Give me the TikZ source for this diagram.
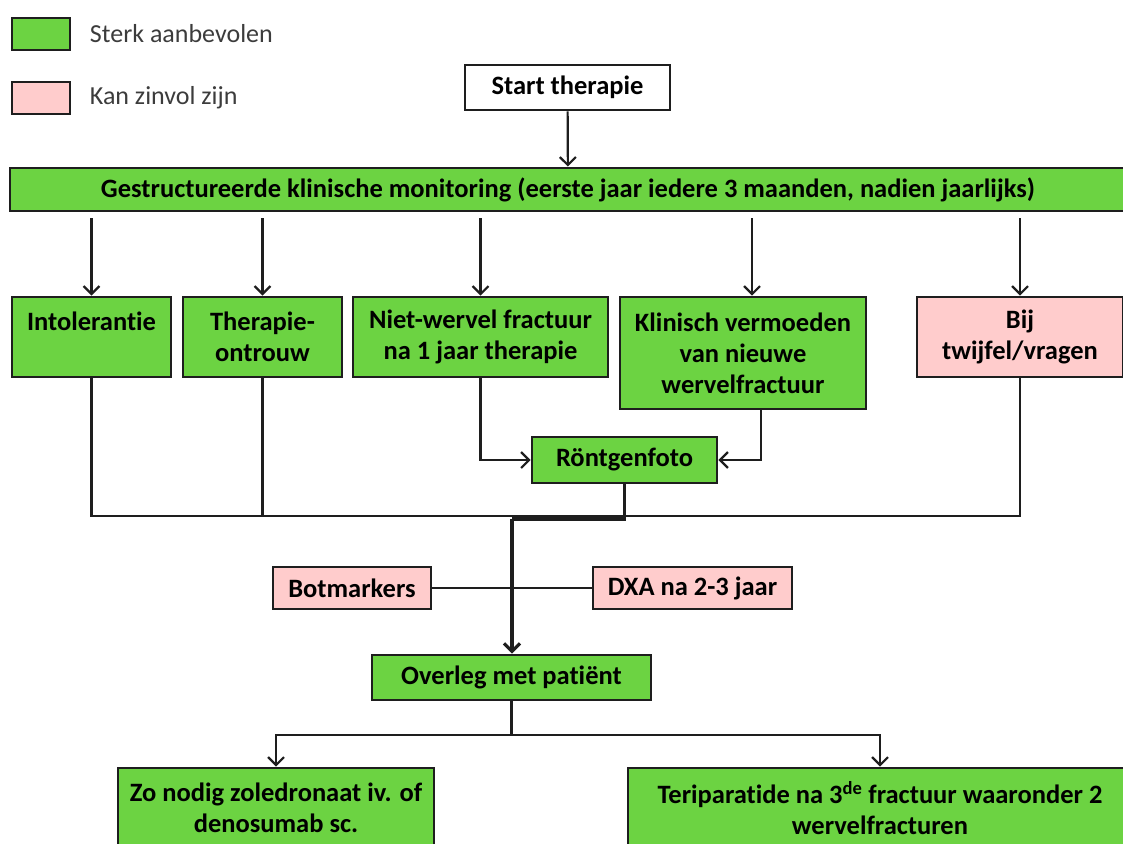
\documentclass[tikz,border=0pt]{standalone}
\usepackage{fontspec}
\setmainfont{Carlito}[Ligatures=NoCommon]
\usetikzlibrary{arrows.meta, positioning}
\definecolor{strong}{RGB}{108,211,66}
\definecolor{maybe}{RGB}{255,204,204}
\definecolor{edge}{RGB}{30,30,30}
\definecolor{legtext}{RGB}{60,60,60}
\tikzstyle{gbox}=[rectangle, draw=edge, line width=2.8pt, fill=strong,
  font=\fontsize{26.5}{31}\selectfont\bfseries, text=black, align=center,
  inner sep=0pt]
\tikzstyle{pinkbox}=[gbox, fill=maybe]
\tikzstyle{arr}=[-{Straight Barb[length=8pt,width=16pt]}, line width=2.2pt, color=edge]
\tikzstyle{ln}=[line width=2.2pt, color=edge]
\tikzstyle{legend}=[font=\fontsize{26}{30}\selectfont, text=legtext, anchor=west]

\begin{document}
\begin{tikzpicture}[x=1pt,y=-1pt]
    \useasboundingbox (0,0) rectangle (1123,843);
    % legend
    \node[gbox, minimum width=58, minimum height=32] (lgreen) at (41,34) {};
    \node[legend, right=15pt of lgreen] (lgreentxt) {Sterk aanbevolen};
    \node[pinkbox, minimum width=58, minimum height=32] (lpink) at (41,98) {};
    \node[legend, right=15pt of lpink] (lpinktxt) {Kan zinvol zijn};
    % boxes
    \node[gbox, fill=white, minimum width=205, minimum height=45] (start) at (567.5,87.5) {Start therapie};
    \node[gbox, minimum width=1116, minimum height=43] (band) at (568,189.5) {Gestructureerde klinische monitoring (eerste jaar iedere 3 maanden, nadien jaarlijks)};
    \node[gbox, minimum width=159, minimum height=80] (intol) at (91.5,337) {Intolerantie\\~};
    \node[gbox, minimum width=159, minimum height=80] (ther) at (262.5,337) {Therapie-\\ontrouw};
    \node[gbox, minimum width=255, minimum height=80] (niet) at (480.5,337) {Niet-wervel fractuur\\na 1 jaar therapie};
    \node[gbox, minimum width=246, minimum height=112] (klin) at (743,353) {Klinisch vermoeden\\van nieuwe\\wervelfractuur};
    \node[pinkbox, minimum width=206, minimum height=80] (bij) at (1020,337) {Bij\\twijfel/vragen};
    \node[gbox, minimum width=185, minimum height=46] (rontgen) at (624.5,460) {Röntgenfoto};
    \node[pinkbox, minimum width=158, minimum height=42] (botm) at (352,588) {Botmarkers};
    \node[pinkbox, minimum width=199, minimum height=42] (dxa) at (692.5,588) {DXA na 2-3 jaar};
    \node[gbox, minimum width=279, minimum height=45] (overleg) at (511.5,677.5) {Overleg met patiënt};
    \node[gbox, minimum width=316, minimum height=80] (zo) at (276,808) {Zo nodig zoledronaat iv. of\\denosumab sc.};
    \node[gbox, minimum width=504, minimum height=80] (teri) at (880,808) {Teriparatide na 3\textsuperscript{de} fractuur waaronder 2\\wervelfracturen};
    \coordinate (merge) at (512,516);
    \coordinate (split) at (511.5,735);
    % connectors
    \draw[arr] (start) -- (band);
    \foreach \n in {intol,ther,niet,bij}
      \draw[arr] ([yshift=-6pt]band.south -| \n.north) -- (\n.north);
    \draw[arr] ([xshift=9pt,yshift=-6pt]band.south -| klin.north) -- ([xshift=9pt]klin.north);
    \draw[ln] (intol.south) |- (merge) -| (bij.south);
    \draw[ln] (ther.south) -- (ther.south |- merge);
    \draw[arr] (niet.south) |- (rontgen.west);
    \draw[arr] ([xshift=18pt]klin.south) |- (rontgen.east);
    \draw[ln, line width=3.2pt] (rontgen.south) |- ([yshift=-3pt]merge);
    \draw[arr, line width=3.2pt] ([yshift=-3pt]merge) -- (merge |- overleg.north);
    \draw[ln] (botm.east) -- (dxa.west);
    \draw[ln] (overleg.south) -- (split);
    \draw[arr] (split) -| (zo.north);
    \draw[arr] (split) -| (teri.north);
  \end{tikzpicture}
\end{document}
